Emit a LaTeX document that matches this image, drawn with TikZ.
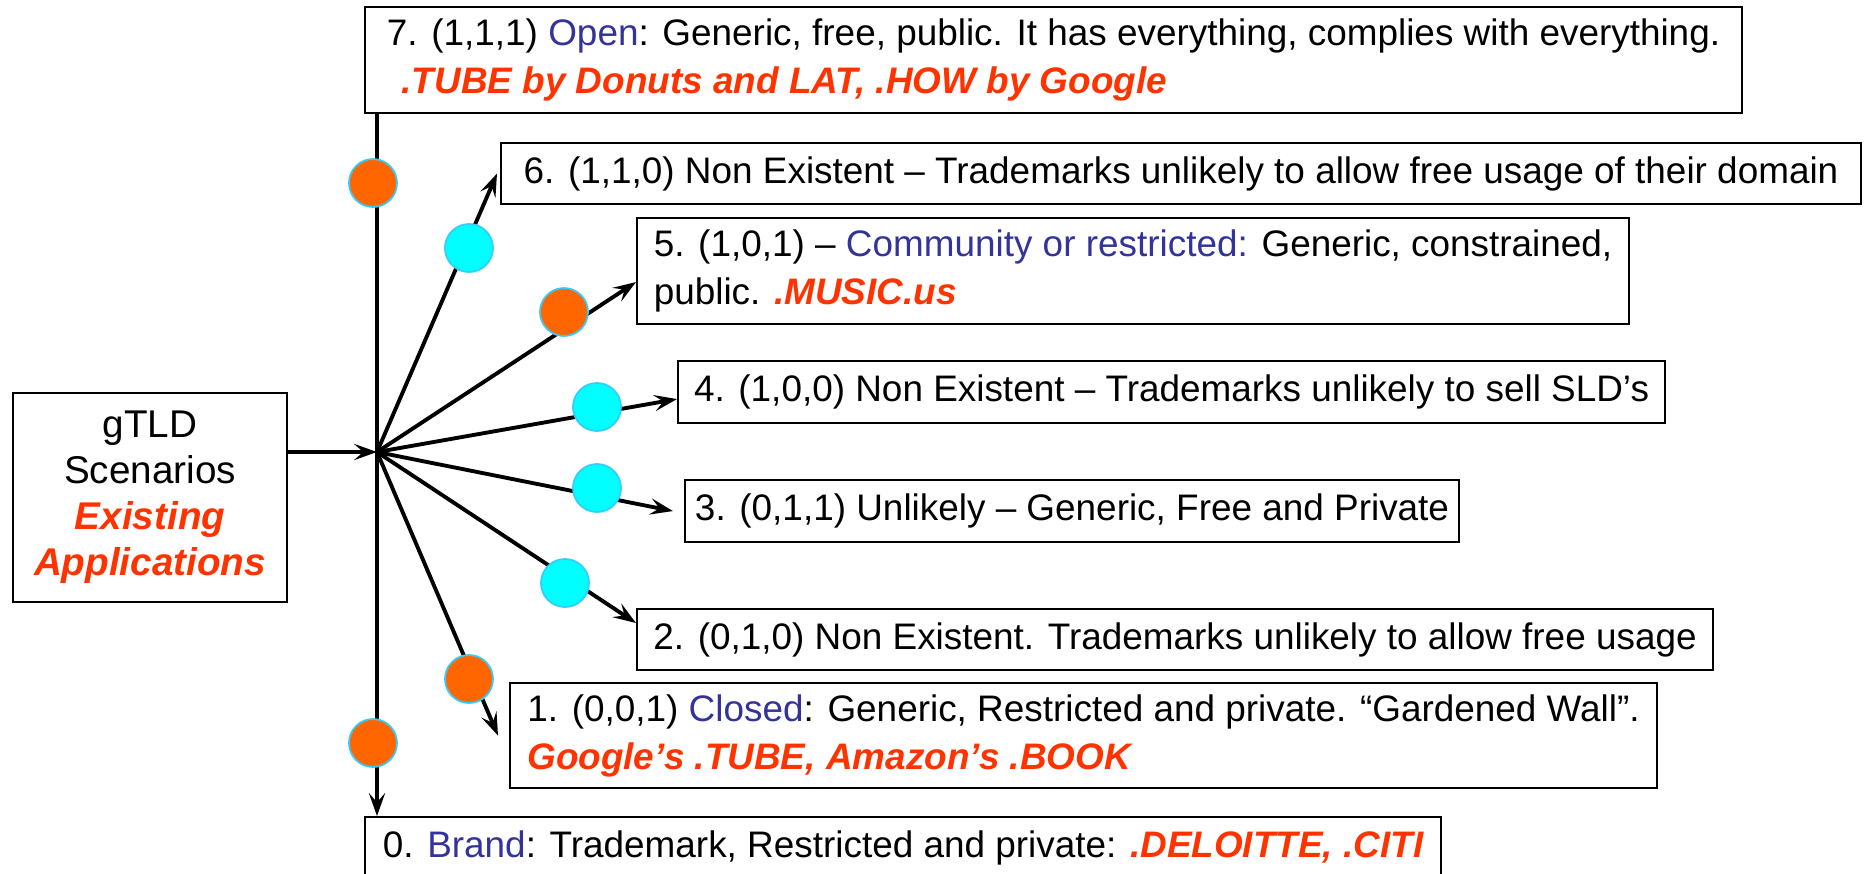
\documentclass[tikz,border=0pt]{standalone}
\usepackage{fontspec}
\setmainfont{Liberation Sans}
\usetikzlibrary{positioning, arrows.meta}

\definecolor{dotorange}{HTML}{FF6600}
\definecolor{dotcyan}{HTML}{00FFFF}
\definecolor{dotrim}{HTML}{33CCFF}
\definecolor{keyblue}{HTML}{333399}
\definecolor{exred}{HTML}{FF3300}

\newcommand{\ex}[1]{\textcolor{exred}{\bfseries\itshape #1}}
\newcommand{\kw}[1]{\textcolor{keyblue}{#1}}

\begin{document}
\begin{tikzpicture}[
        box/.style={draw, line width=0.6pt, anchor=north west, align=left, inner sep=0pt,
            font=\fontsize{10.5}{13.6}\selectfont},
        dot/.style={circle, draw=dotrim, line width=0.5pt, minimum size=0.48cm, inner sep=0pt},
        ray/.style={line width=1.1pt, -{Stealth[length=6.5pt, width=4.6pt, inset=2.6pt]}}
    ]
        \useasboundingbox (0,0) rectangle (18.72,-8.74);

        \node[box, align=center, minimum width=2.74cm, minimum height=2.09cm,
            font=\fontsize{11}{13.1}\selectfont] (scen) at (0.12,-3.92)
            {gTLD\\Scenarios\\\ex{Existing}\\\ex{Applications}};

        \node[box, minimum width=13.77cm, minimum height=1.06cm] (b7) at (3.64,-0.06)
            {7. (1,1,1) \kw{Open}: Generic, free, public. It has everything, complies with everything.\\
            \hspace*{0.4em}\ex{.TUBE by Donuts and LAT, .HOW by Google}};
        \node[box, minimum width=13.60cm, minimum height=0.61cm] (b6) at (5.00,-1.42)
            {6. (1,1,0) Non Existent – Trademarks unlikely to allow free usage of their domain};
        \node[box, minimum width=9.92cm, minimum height=1.06cm] (b5) at (6.36,-2.17)
            {5. (1,0,1) – \kw{Community or restricted:} Generic, constrained,\\
            public. \ex{.MUSIC.us}};
        \node[box, minimum width=9.87cm, minimum height=0.62cm] (b4) at (6.77,-3.60)
            {4. (1,0,0) Non Existent – Trademarks unlikely to sell SLD’s};
        \node[box, minimum width=7.74cm, minimum height=0.62cm] (b3) at (6.84,-4.79)
            {3. (0,1,1) Unlikely – Generic, Free and Private};
        \node[box, minimum width=10.76cm, minimum height=0.61cm] (b2) at (6.36,-6.08)
            {2. (0,1,0) Non Existent. Trademarks unlikely to allow free usage};
        \node[box, minimum width=11.47cm, minimum height=1.05cm] (b1) at (5.09,-6.82)
            {1. (0,0,1) \kw{Closed}: Generic, Restricted and private. “Gardened Wall”.\\
            \ex{Google’s .TUBE, Amazon’s .BOOK}};
        \node[box, minimum width=10.76cm, minimum height=0.62cm] (b0) at (3.64,-8.16)
            {0. \kw{Brand}: Trademark, Restricted and private: \ex{.DELOITTE, .CITI}};

        \coordinate (hub) at (3.77,-4.52);

        \draw[ray] (scen.east |- hub) -- (hub);
        \draw[line width=1.1pt] (hub |- b7.south) -- (hub);
        \draw[ray] (hub) -- (hub |- b0.north);
        \draw[ray] (hub) -- ([xshift=-0.3mm]b6.west);
        \draw[ray] (hub) -- ([yshift=-1.1mm]b5.west);
        \draw[ray] (hub) -- ([yshift=-0.7mm]b4.west);
        \draw[ray] (hub) -- ([xshift=-1.1mm]b3.west);
        \draw[ray] (hub) -- ([yshift=-1.5mm]b2.north west);
        \draw[ray] (hub) -- ([xshift=-1.1mm]b1.west);

        \node[dot, fill=dotorange] (d7) at (3.73,-1.83) {};
        \node[dot, fill=dotcyan] (d6) at (4.69,-2.48) {};
        \node[dot, fill=dotorange] (d5) at (5.64,-3.12) {};
        \node[dot, fill=dotcyan] (d4) at (5.97,-4.07) {};
        \node[dot, fill=dotcyan] (d3) at (5.97,-4.88) {};
        \node[dot, fill=dotcyan] (d2) at (5.65,-5.83) {};
        \node[dot, fill=dotorange] (d1) at (4.69,-6.79) {};
        \node[dot, fill=dotorange] (d0) at (3.73,-7.43) {};
\end{tikzpicture}
\end{document}
